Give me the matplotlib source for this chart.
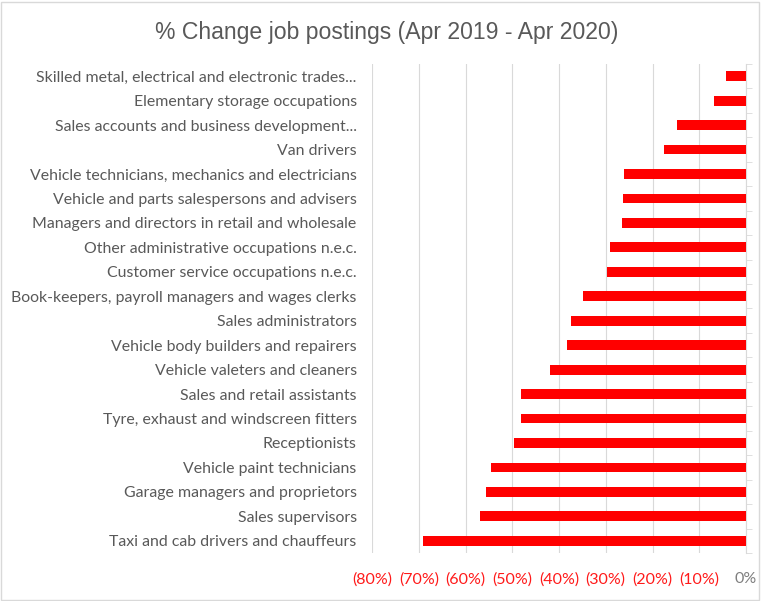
import matplotlib
matplotlib.use("Agg")
import matplotlib.pyplot as plt
from matplotlib.ticker import FixedLocator

categories = [
    "Skilled metal, electrical and electronic trades...",
    "Elementary storage occupations",
    "Sales accounts and business development...",
    "Van drivers",
    "Vehicle technicians, mechanics and electricians",
    "Vehicle and parts salespersons and advisers",
    "Managers and directors in retail and wholesale",
    "Other administrative occupations n.e.c.",
    "Customer service occupations n.e.c.",
    "Book-keepers, payroll managers and wages clerks",
    "Sales administrators",
    "Vehicle body builders and repairers",
    "Vehicle valeters and cleaners",
    "Sales and retail assistants",
    "Tyre, exhaust and windscreen fitters",
    "Receptionists",
    "Vehicle paint technicians",
    "Garage managers and proprietors",
    "Sales supervisors",
    "Taxi and cab drivers and chauffeurs",
]
values = [-4.3, -6.8, -14.8, -17.6, -26.0, -26.3, -26.6, -29.0, -29.7, -34.9,
          -37.5, -38.3, -42.0, -48.2, -48.2, -49.7, -54.5, -55.7, -56.8, -69.0]
xticks = [-80, -70, -60, -50, -40, -30, -20, -10, 0]
xtick_labels = ["(80%)", "(70%)", "(60%)", "(50%)", "(40%)", "(30%)", "(20%)", "(10%)", "0%"]

W, H = 761, 601
fig = plt.figure(figsize=(W / 100, H / 100), dpi=100)
ax = fig.add_axes([372 / W, 1 - 553 / H, (746 - 372) / W, (553 - 64) / H])

y = list(range(len(categories)))
ax.barh(y, values, height=0.4, color="#ff0000", zorder=3)
ax.set_ylim(len(categories) - 0.5, -0.5)
ax.set_xlim(-80, 0)
ax.set_xticks(xticks)
ax.set_xticklabels(xtick_labels)
for lbl in ax.get_xticklabels():
    lbl.set_color("#ff1a1a" if lbl.get_text() != "0%" else "#7f7f7f")
    lbl.set_fontfamily("Lato")
    lbl.set_fontsize(11.5)
ax.tick_params(axis="x", length=0, pad=14)

ax.set_yticks(y)
ax.set_yticklabels(categories, fontfamily="Lato", fontsize=11.4, color="#595959")
ax.tick_params(axis="y", length=0, pad=11)
ax.yaxis.set_minor_locator(FixedLocator([i - 0.5 for i in range(len(categories) + 1)]))
ax.tick_params(axis="y", which="minor", length=4, color="#d9d9d9", right=True, left=False)
ax.tick_params(axis="y", which="major", labelleft=True, labelright=False, right=False, left=False)

ax.grid(axis="x", color="#d9d9d9", linewidth=0.8, zorder=0)
for s in ["top", "left", "bottom"]:
    ax.spines[s].set_visible(False)
ax.spines["right"].set_color("#d9d9d9")
ax.spines["right"].set_linewidth(0.8)

fig.text(387 / W, 1 - 33 / H, "% Change job postings (Apr 2019 - Apr 2020)",
         ha="center", va="center", fontsize=16.6, color="#595959", fontfamily="Liberation Sans")

border = plt.Rectangle((1 / W, 1 / H), (W - 3) / W, (H - 3) / H, transform=fig.transFigure,
                       fill=False, edgecolor="#d9d9d9", linewidth=1)
fig.patches.append(border)

fig.savefig("out.png", dpi=100, facecolor="white")
